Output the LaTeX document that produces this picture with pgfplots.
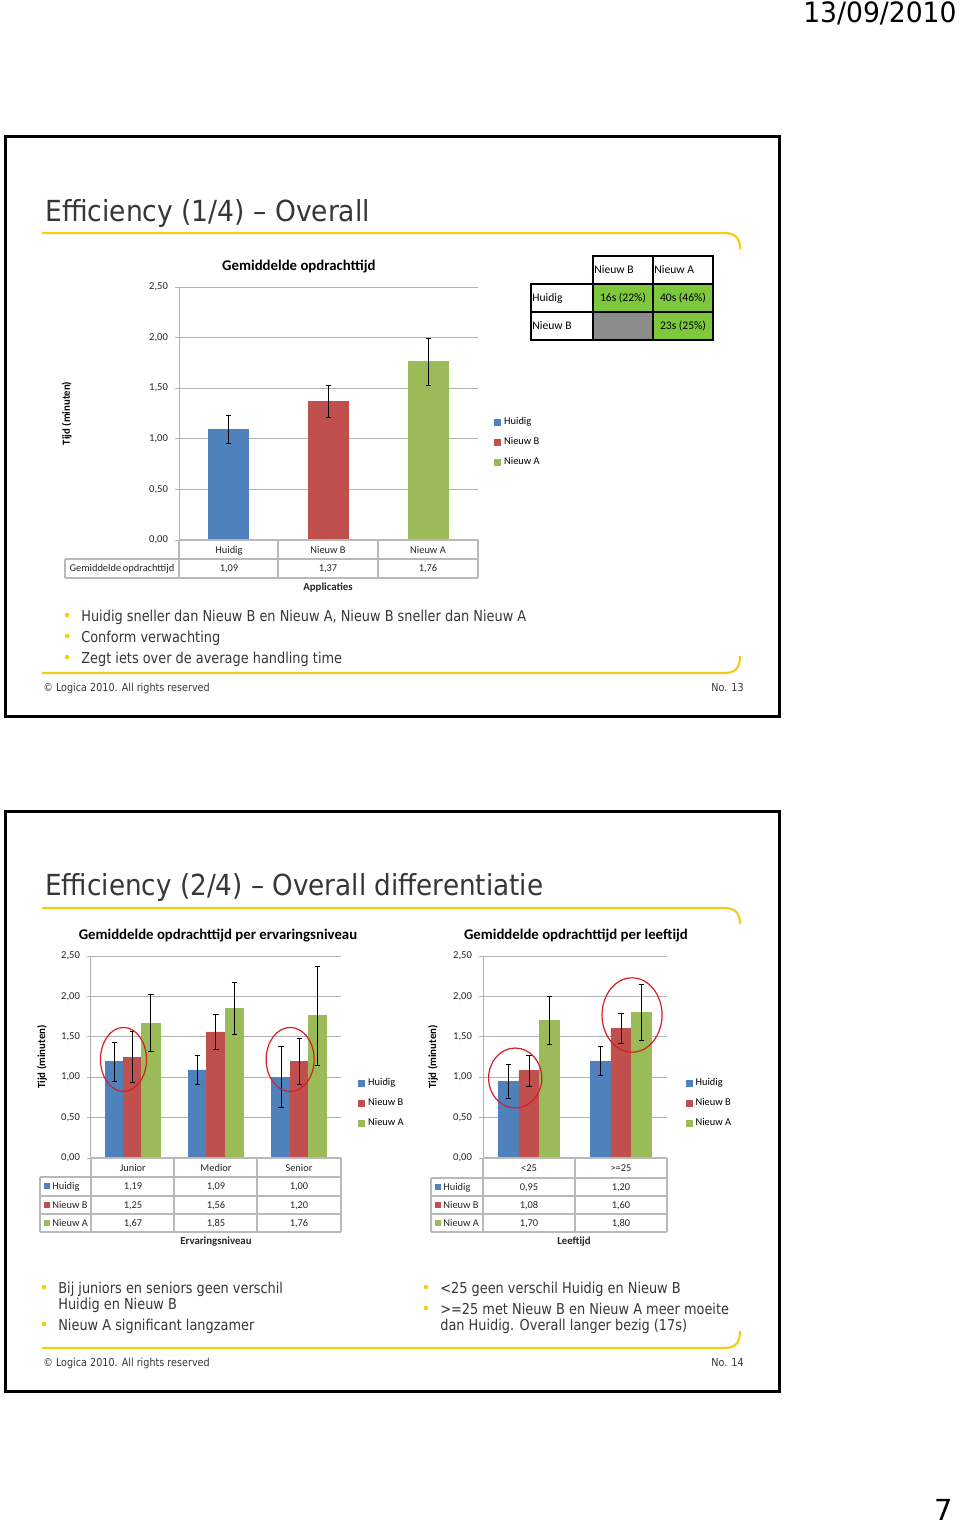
\documentclass[border=0pt]{standalone}
\usepackage{pgfplots}
\pgfplotsset{compat=1.18}
\usepackage{fontspec}
\setmainfont{DejaVu Sans}
\newfontfamily\calfont{Carlito}
\definecolor{cblue}{RGB}{79,129,189}
\definecolor{cred}{RGB}{192,80,77}
\definecolor{cgreen}{RGB}{155,187,89}
\definecolor{gridc}{RGB}{178,178,178}
\definecolor{tabc}{RGB}{185,185,185}
\definecolor{lyel}{RGB}{245,205,25}
\definecolor{txt}{RGB}{55,55,55}
\definecolor{tgreen}{RGB}{125,200,60}
\definecolor{tgray}{RGB}{140,140,140}
\definecolor{ellred}{RGB}{215,30,40}
\newcommand{\fs}[1]{\fontsize{#1pt}{#1pt}\selectfont}
\pgfplotsset{
  ybar legend/.style={/pgfplots/legend image code/.code={\fill[##1,/tikz/.cd] (0pt,-1.5pt) rectangle (3pt,1.5pt);}},
  eb/.style={error bars/.cd, y dir=both, y explicit,
    error bar style={black, line width=0.5pt},
    error mark options={black, rotate=90, mark size=1.3pt, line width=0.5pt}},
  chart/.style={
    scale only axis, clip=false,
    ymin=0, ymax=2.5, ytick={0,0.5,1,1.5,2,2.5}, xtick=\empty,
    ymajorgrids, grid style={gridc, line width=0.5pt},
    axis x line=none, axis y line*=left,
    axis line style={gridc, line width=0.5pt},
    ytick style={gridc, line width=0.5pt}, major tick length=2pt, tick align=outside,
    yticklabel style={font=\calfont\fs{5.3}, text=black!85},
    /pgf/number format/.cd, fixed, fixed zerofill, precision=2, use comma, assume math mode=true,
    /pgfplots/.cd,
    ylabel={Tijd (minuten)},
    title style={font=\calfont\bfseries\fs{7.4}, anchor=center, yshift=-6pt},
    ylabel style={font=\calfont\bfseries\fs{5.4}, anchor=center},
    legend cell align=left,
    legend style={draw=none, fill=none, anchor=west, font=\calfont\fs{5.2}, row sep=5pt, inner sep=0pt,
      nodes={inner xsep=1.5pt, inner ysep=0pt}},
    legend entries={Huidig, Nieuw B, Nieuw A},
  }
}
\begin{document}
\begin{tikzpicture}[x=0.5pt,y=-0.5pt,
  tl/.style={font=\calfont\fs{5.2}, inner sep=0pt, anchor=base, text=black!85},
  tb/.style={font=\calfont\bfseries\fs{5.4}, inner sep=0pt, anchor=base, text=black!85},
  body/.style={font=\fs{7.5}, text=txt, inner sep=0pt, anchor=base west, xscale=0.86},
  foot/.style={font=\fs{5.5}, text=txt, inner sep=0pt, xscale=0.875}]
\fill[white] (0,0) rectangle (960,1527);
\path[use as bounding box] (0,0) rectangle (960,1527);
% header and page number
\node[anchor=base east, font=\fs{14}, inner sep=0pt, xscale=0.95] at (957,22) {13/09/2010};
\node[anchor=base east, font=\fs{14.5}, inner sep=0pt] at (953,1520) {7};
% frames
\draw[black, line width=1.5pt] (5,136) rectangle (779,716);
\draw[black, line width=1.5pt] (5,811) rectangle (779,1391);
% yellow lines
\draw[lyel, line width=1.1pt] (42,233) -- (724,233) .. controls (737,233) and (740,240) .. (740,249);
\draw[lyel, line width=1.1pt] (42,673) -- (724,673) .. controls (737,673) and (740,666) .. (740,656);
\draw[lyel, line width=1.1pt] (42,908) -- (724,908) .. controls (737,908) and (740,915) .. (740,924);
\draw[lyel, line width=1.1pt] (42,1348) -- (724,1348) .. controls (737,1348) and (740,1341) .. (740,1331);
% titles
\node[anchor=base west, font=\fs{14.5}, text=txt, inner sep=0pt, xscale=0.915] at (45,221) {Efficiency (1/4) – Overall};
\node[anchor=base west, font=\fs{14.5}, text=txt, inner sep=0pt, xscale=0.905] at (45,895) {Efficiency (2/4) – Overall differentiatie};
% bullets slide 1
\foreach \yy in {615,636,657} \fill[lyel] (67,\yy) circle (2.3);
\node[body] at (81,621) {Huidig sneller dan Nieuw B en Nieuw A, Nieuw B sneller dan Nieuw A};
\node[body] at (81,642) {Conform verwachting};
\node[body] at (81,663) {Zegt iets over de average handling time};
\node[foot, anchor=base west] at (43,691) {© Logica 2010. All rights reserved};
\node[foot, anchor=base east] at (744,691) {No. 13};
% bullets slide 2
\foreach \yy in {1287,1324} \fill[lyel] (44,\yy) circle (2.3);
\foreach \yy in {1287,1308} \fill[lyel] (426,\yy) circle (2.3);
\node[body] at (58,1293) {Bij juniors en seniors geen verschil};
\node[body] at (58,1309) {Huidig en Nieuw B};
\node[body] at (58,1330) {Nieuw A significant langzamer};
\node[body] at (440,1293) {<25 geen verschil Huidig en Nieuw B};
\node[body] at (440,1314) {>=25 met Nieuw B en Nieuw A meer moeite};
\node[body] at (440,1330) {dan Huidig. Overall langer bezig (17s)};
\node[foot, anchor=base west] at (43,1366) {© Logica 2010. All rights reserved};
\node[foot, anchor=base east] at (744,1366) {No. 14};

% ---------------- chart 1
\coordinate (A) at (179,540);
\begin{axis}[chart, at={(A)}, anchor=south west, width=149.5pt, height=126.5pt,
  ybar, bar width=20pt, xmin=-0.5, xmax=2.5,
  title={Gemiddelde opdrachttijd}, title style={at={(0.401,1.079)}},
  ylabel style={at={(-0.375,0.5)}},
  legend style={at={(1.0535,0.387)}}]
\addplot[fill=cblue, draw=cblue, bar shift=0pt, eb] coordinates {(0,1.09) +- (0,0.14)};
\addplot[fill=cred, draw=cred, bar shift=0pt, eb] coordinates {(1,1.37) +- (0,0.16)};
\addplot[fill=cgreen, draw=cgreen, bar shift=0pt, eb] coordinates {(2,1.76) +- (0,0.235)};
\end{axis}
\draw[tabc, line width=0.6pt] (179,540) -- (478,540) (65,559) -- (478,559) (65,578) -- (478,578)
  (65,559) -- (65,578) (179,540) -- (179,578) (278,540) -- (278,578) (378,540) -- (378,578) (478,540) -- (478,578);
\node[tl] at (229,553.5) {Huidig};
\node[tl] at (328,553.5) {Nieuw B};
\node[tl] at (428,553.5) {Nieuw A};
\node[tl] at (122,571.5) {Gemiddelde\,opdrachttijd};
\node[tl] at (229,571.5) {1,09};
\node[tl] at (328,571.5) {1,37};
\node[tl] at (428,571.5) {1,76};
\node[tb] at (328,590.5) {Applicaties};
% top-right table
\fill[tgreen] (593,284) rectangle (713,312) (653,312) rectangle (713,340);
\fill[tgray] (593,312) rectangle (653,340);
\draw[black, line width=0.8pt] (593,256) rectangle (713,284) (653,256) -- (653,340)
  (531,284) rectangle (713,340) (531,312) -- (713,312) (593,284) -- (593,340);
\begin{scope}[every node/.style={font=\calfont\fs{5.8}, inner sep=0pt, text=black}]
\node[anchor=base west] at (594,273.5) {Nieuw B};
\node[anchor=base west] at (654,273.5) {Nieuw A};
\node[anchor=base west] at (532,301.5) {Huidig};
\node[anchor=base west] at (532,329.5) {Nieuw B};
\node[anchor=base] at (623,301.5) {16s (22\%)};
\node[anchor=base] at (683,301.5) {40s (46\%)};
\node[anchor=base] at (683,329.5) {23s (25\%)};
\end{scope}

% ---------------- chart 2a
\coordinate (B) at (91,1158);
\begin{axis}[chart, at={(B)}, anchor=south west, width=125pt, height=101pt,
  ybar=0pt, bar width=9.15pt, xmin=-0.5, xmax=2.5,
  title={Gemiddelde opdrachttijd per ervaringsniveau}, title style={at={(0.508,1.099)}},
  ylabel style={at={(-0.196,0.5)}},
  legend style={at={(1.068,0.27)}}]
\addplot[fill=cblue, draw=cblue, eb] coordinates {(0,1.19) +- (0,0.24) (1,1.09) +- (0,0.18) (2,1.00) +- (0,0.38)};
\addplot[fill=cred, draw=cred, eb] coordinates {(0,1.25) +- (0,0.31) (1,1.56) +- (0,0.215) (2,1.20) +- (0,0.285)};
\addplot[fill=cgreen, draw=cgreen, eb] coordinates {(0,1.67) +- (0,0.35) (1,1.85) +- (0,0.325) (2,1.76) +- (0,0.615)};
\draw[ellred, line width=0.6pt] (axis cs:-0.11,1.22) ellipse [x radius=11.5pt, y radius=16pt];
\draw[ellred, line width=0.6pt] (axis cs:1.89,1.22) ellipse [x radius=12pt, y radius=16pt];
\end{axis}
\draw[tabc, line width=0.6pt] (91,1158) -- (341,1158) (40,1177) -- (341,1177) (40,1196) -- (341,1196)
  (40,1214) -- (341,1214) (40,1232) -- (341,1232)
  (40,1177) -- (40,1232) (91,1158) -- (91,1232) (174,1158) -- (174,1232) (257,1158) -- (257,1232) (341,1158) -- (341,1232);
\node[tl] at (133,1171.5) {Junior};
\node[tl] at (216,1171.5) {Medior};
\node[tl] at (299,1171.5) {Senior};
\fill[cblue] (44,1183) rectangle (50,1189);
\fill[cred] (44,1202) rectangle (50,1208);
\fill[cgreen] (44,1220) rectangle (50,1226);
\node[tl, anchor=base west] at (52,1189.5) {Huidig};
\node[tl, anchor=base west] at (52,1208.5) {Nieuw B};
\node[tl, anchor=base west] at (52,1226.5) {Nieuw A};
\node[tl] at (133,1189.5) {1,19};
\node[tl] at (216,1189.5) {1,09};
\node[tl] at (299,1189.5) {1,00};
\node[tl] at (133,1208.5) {1,25};
\node[tl] at (216,1208.5) {1,56};
\node[tl] at (299,1208.5) {1,20};
\node[tl] at (133,1226.5) {1,67};
\node[tl] at (216,1226.5) {1,85};
\node[tl] at (299,1226.5) {1,76};
\node[tb] at (216,1244.5) {Ervaringsniveau};

% ---------------- chart 2b
\coordinate (C) at (483,1158);
\begin{axis}[chart, at={(C)}, anchor=south west, width=92pt, height=101pt,
  ybar=0pt, bar width=10.1pt, xmin=-0.5, xmax=1.5,
  title={Gemiddelde opdrachttijd per leeftijd}, title style={at={(0.505,1.099)}},
  ylabel style={at={(-0.272,0.5)}},
  legend style={at={(1.10,0.27)}}]
\addplot[fill=cblue, draw=cblue, eb] coordinates {(0,0.95) +- (0,0.21) (1,1.20) +- (0,0.18)};
\addplot[fill=cred, draw=cred, eb] coordinates {(0,1.08) +- (0,0.19) (1,1.60) +- (0,0.185)};
\addplot[fill=cgreen, draw=cgreen, eb] coordinates {(0,1.70) +- (0,0.30) (1,1.80) +- (0,0.35)};
\draw[ellred, line width=0.6pt] (axis cs:-0.15,0.99) ellipse [x radius=13.3pt, y radius=15pt];
\draw[ellred, line width=0.6pt] (axis cs:1.12,1.77) ellipse [x radius=15pt, y radius=18.6pt];
\end{axis}
\draw[tabc, line width=0.6pt] (483,1158) -- (667,1158) (431,1178) -- (667,1178) (431,1196) -- (667,1196)
  (431,1214) -- (667,1214) (431,1232) -- (667,1232)
  (431,1178) -- (431,1232) (483,1158) -- (483,1232) (575,1158) -- (575,1232) (667,1158) -- (667,1232);
\node[tl] at (529,1171.5) {<25};
\node[tl] at (621,1171.5) {>=25};
\fill[cblue] (435,1184) rectangle (441,1190);
\fill[cred] (435,1202) rectangle (441,1208);
\fill[cgreen] (435,1220) rectangle (441,1226);
\node[tl, anchor=base west] at (443,1190.5) {Huidig};
\node[tl, anchor=base west] at (443,1208.5) {Nieuw B};
\node[tl, anchor=base west] at (443,1226.5) {Nieuw A};
\node[tl] at (529,1190.5) {0,95};
\node[tl] at (621,1190.5) {1,20};
\node[tl] at (529,1208.5) {1,08};
\node[tl] at (621,1208.5) {1,60};
\node[tl] at (529,1226.5) {1,70};
\node[tl] at (621,1226.5) {1,80};
\node[tb] at (574,1244.5) {Leeftijd};
\end{tikzpicture}
\end{document}
